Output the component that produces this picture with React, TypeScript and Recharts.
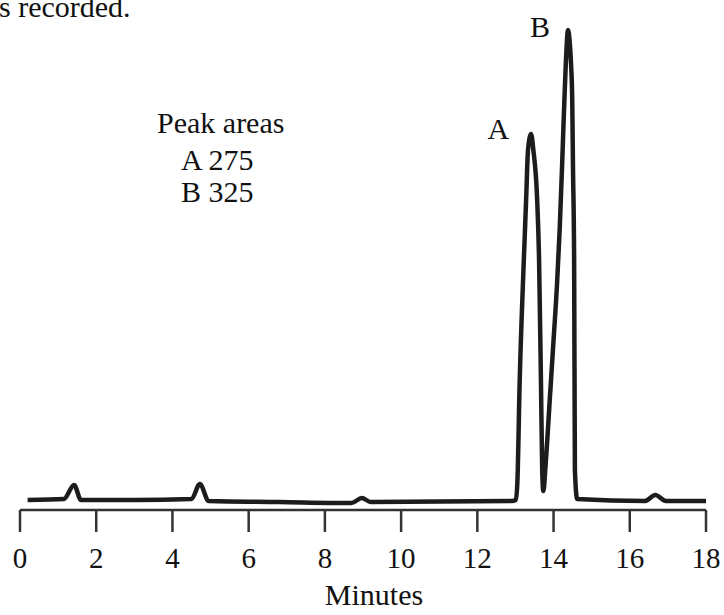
import { LineChart, Line, XAxis, YAxis, ReferenceDot, Label } from "recharts";

// retention time (min) and detector response (arbitrary units)
const minutes = [
  0.2, 1.15, 1.42, 1.6, 3.0, 4.5, 4.72, 4.95, 6.8, 8.7, 8.97, 9.2, 12.9,
  13.01, 13.05, 13.11, 13.22, 13.28, 13.33, 13.41, 13.47, 13.57, 13.62, 13.67,
  13.7, 13.73, 13.8, 13.9, 14.0, 14.09, 14.16, 14.22, 14.27, 14.32, 14.38,
  14.43, 14.46, 14.49, 14.51, 14.54, 14.56, 14.62, 16.4, 16.67, 16.95, 18.0,
];
const response = [
  10, 11, 25, 10, 10, 11, 26, 9, 8, 7, 12, 8, 9,
  10, 27, 127, 250, 310, 360, 376, 360, 310, 250, 127,
  45, 19, 50, 110, 170, 225, 280, 340, 395, 445, 480,
  465, 445, 410, 343, 250, 40, 11, 9, 15, 9, 9,
];

const axisTicks = [0, 2, 4, 6, 8, 10, 12, 14, 16, 18];

const peakNames = ["A", "B"];
const peakMinutes = [13.41, 14.38];
const peakHeights = [376, 480];
const peakAreas = [275, 325];

const data = minutes.map((t, i) => ({ t, v: response[i] }));

const serif =
  "'Liberation Serif', 'Times New Roman', Tinos, 'DejaVu Serif', 'Noto Serif', serif";
const ink = "#1c1c1c";

export default function App() {
  return (
    <div
      style={{
        position: "fixed",
        top: 0,
        left: 0,
        width: 724,
        height: 615,
        background: "#fff",
        overflow: "hidden",
        fontFamily: serif,
      }}
    >
      <LineChart
        width={724}
        height={615}
        data={data}
        margin={{ top: 20, right: 18, left: 20, bottom: 0 }}
      >
        <XAxis
          dataKey="t"
          type="number"
          domain={[0, 18]}
          ticks={axisTicks}
          height={105}
          tickSize={22}
          tickMargin={15}
          axisLine={{ stroke: "#333", strokeWidth: 2.5 }}
          tickLine={{ stroke: "#333", strokeWidth: 2.5 }}
          tick={{ fontSize: 29, fill: "#111", fontFamily: serif }}
        >
          <Label
            value="Minutes"
            position="insideBottom"
            offset={10}
            dx={11}
            style={{ fontSize: 30, fill: "#111", fontFamily: serif }}
          />
        </XAxis>
        <YAxis hide type="number" domain={[0, 490]} />
        <Line
          type="monotone"
          dataKey="v"
          stroke={ink}
          strokeWidth={4.5}
          dot={false}
          isAnimationActive={false}
        />
        {peakNames.map((name, i) => (
          <ReferenceDot
            key={name}
            x={peakMinutes[i]}
            y={peakHeights[i]}
            r={0}
            fill="none"
            stroke="none"
          >
            <Label
              value={name}
              position="left"
              offset={i === 0 ? 22 : 18}
              dy={i === 0 ? -6 : -4}
              style={{ fontSize: 30, fill: "#111", fontFamily: serif }}
            />
          </ReferenceDot>
        ))}
      </LineChart>
      <svg
        width={724}
        height={615}
        style={{ position: "absolute", top: 0, left: 0, pointerEvents: "none" }}
      >
        <g style={{ fontFamily: serif, fontSize: 30 }} fill="#111">
          <text x={-1} y={17}>s recorded.</text>
          <text x={157} y={133}>Peak areas</text>
          {peakNames.map((name, i) => (
            <text key={name} x={181} y={170 + i * 32}>
              {name} {peakAreas[i]}
            </text>
          ))}
        </g>
      </svg>
    </div>
  );
}
